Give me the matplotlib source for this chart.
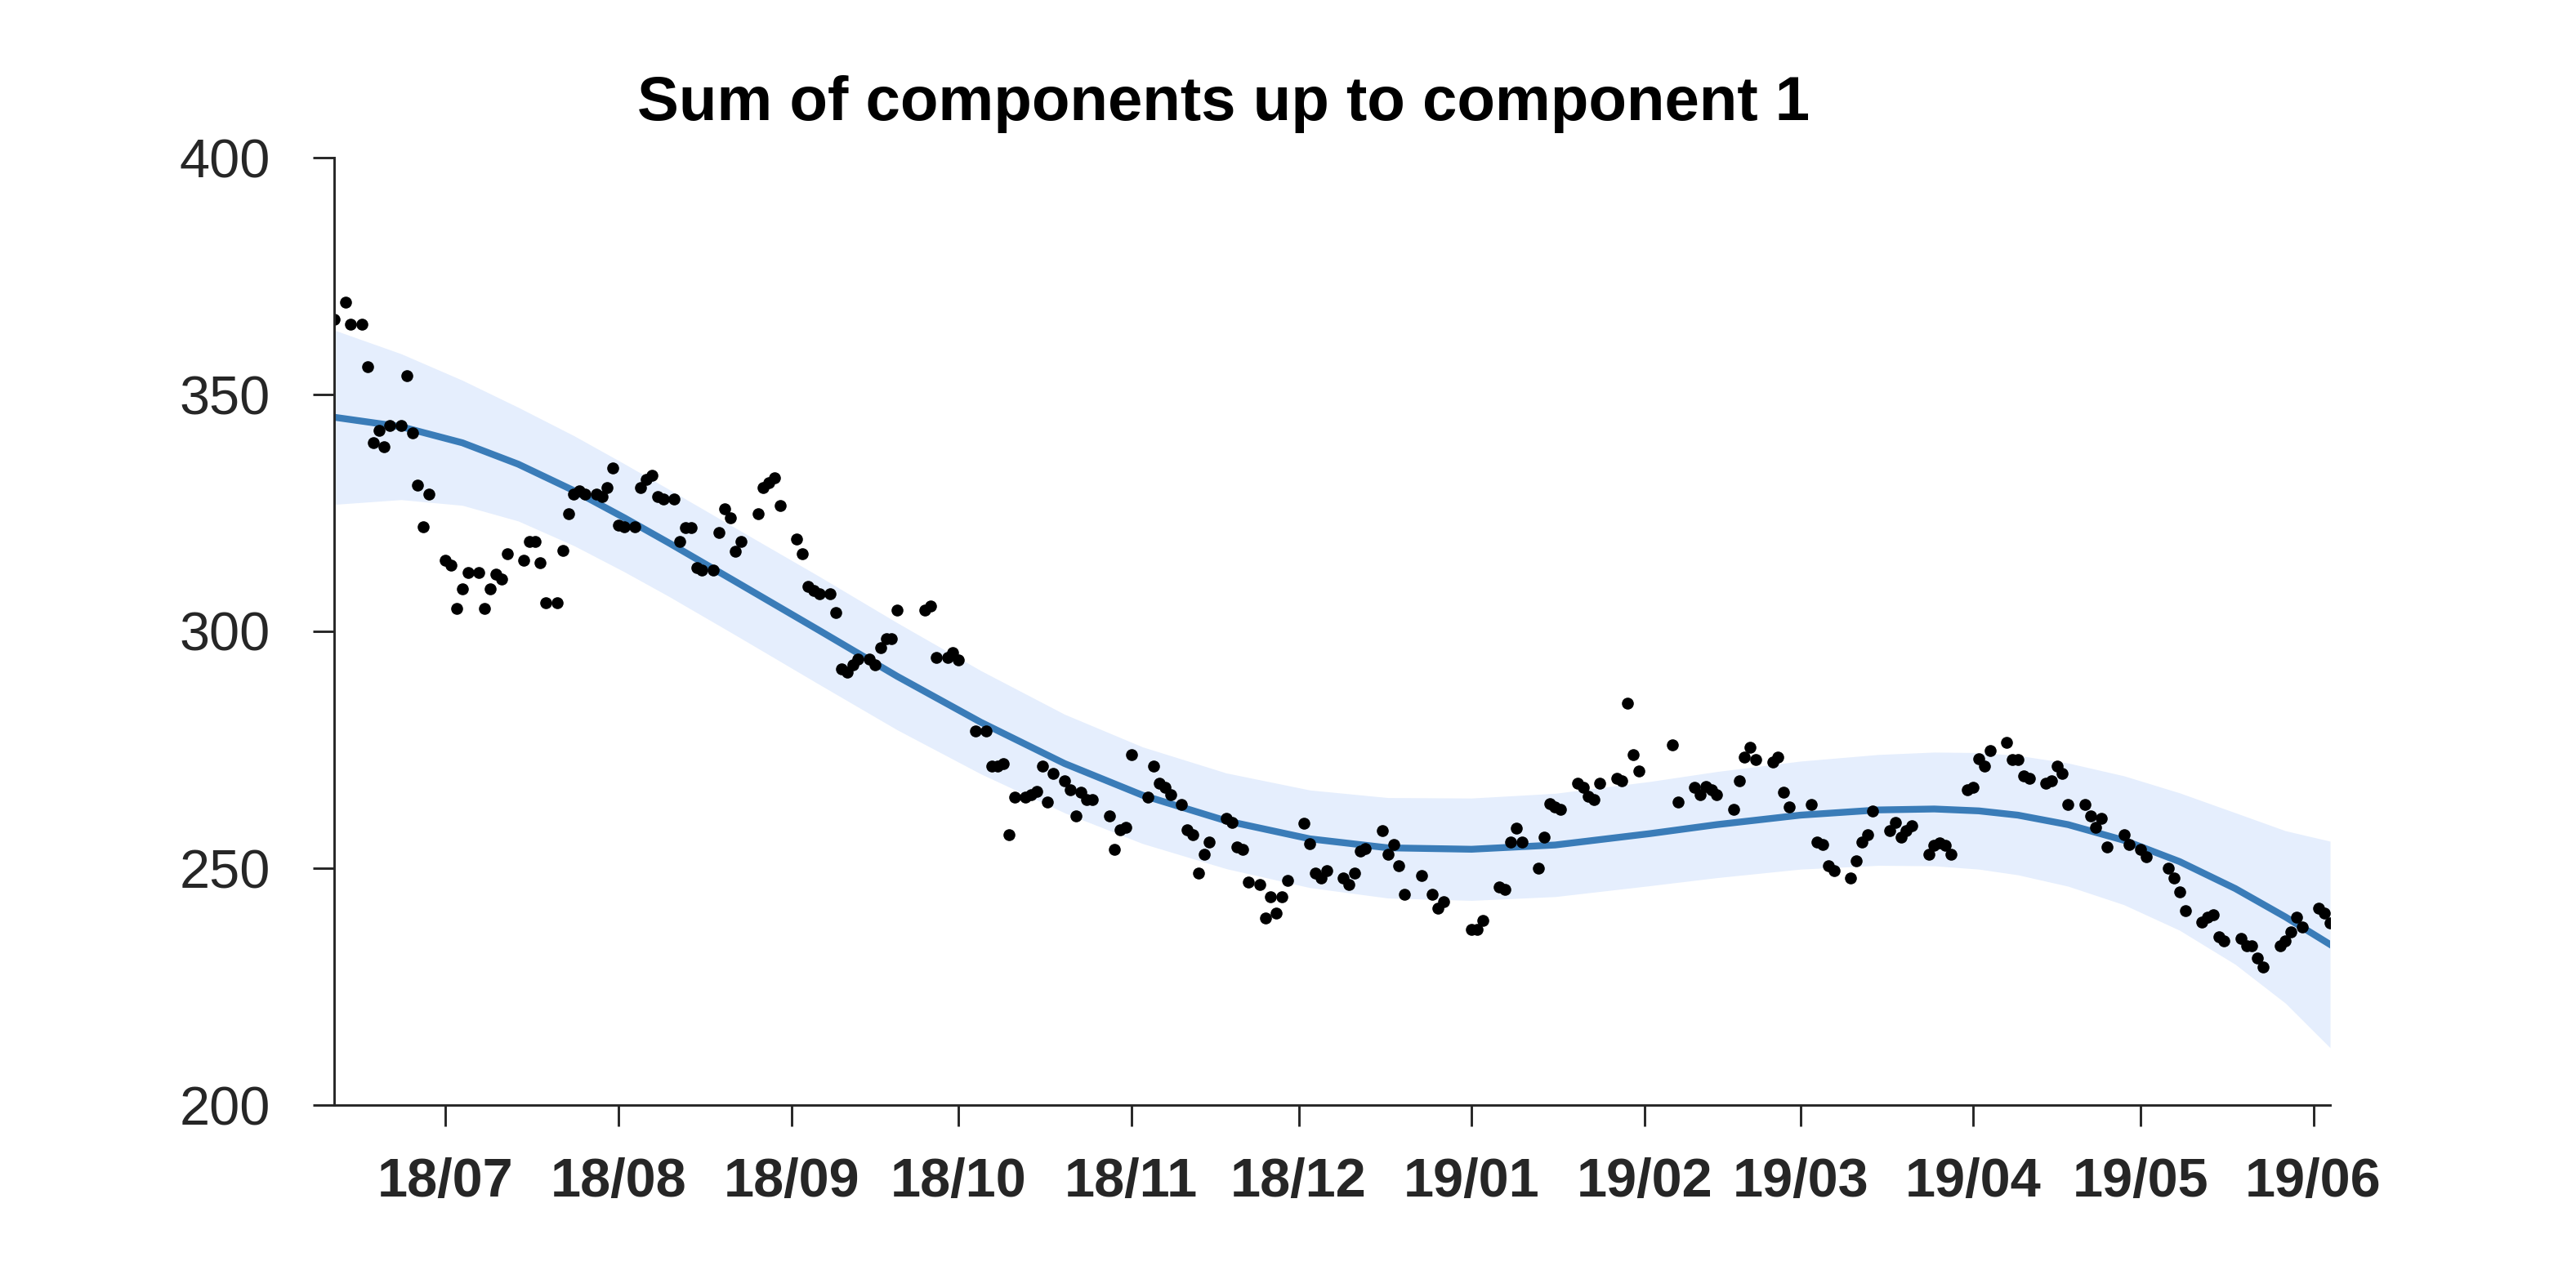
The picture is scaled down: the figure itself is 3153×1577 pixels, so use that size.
import numpy as np
import matplotlib
matplotlib.use("Agg")
import matplotlib.pyplot as plt
import matplotlib.dates as mdates

plt.rcParams['font.family'] = ['Liberation Sans', 'DejaVu Sans']

start = np.datetime64('2018-06-11')

# observations: day offset from start, value
obs_day = [0, 2, 3, 5, 6, 7, 8, 9, 10, 12, 13, 14, 15, 16, 17, 20, 21, 22, 23, 24,
           26, 27, 28, 29, 30, 31, 34, 35, 36, 37, 38, 40, 41, 42, 43, 44, 45, 47, 48, 49,
           50, 51, 52, 54, 55, 56, 57, 58, 59, 61, 62, 63, 64, 65, 66, 68, 69, 70, 71, 72,
           73, 76, 77, 78, 79, 80, 83, 84, 85, 86, 87, 89, 90, 91, 92, 93, 94, 96, 97, 98,
           99, 100, 101, 106, 107, 108, 110, 111, 112, 115, 117, 118, 119, 120, 121, 122, 124, 125, 126, 127,
           128, 129, 131, 132, 133, 134, 135, 136, 139, 140, 141, 142, 143, 146, 147, 148, 149, 150, 152, 153,
           154, 155, 156, 157, 160, 161, 162, 163, 164, 166, 167, 168, 169, 170, 171, 174, 175, 176, 177, 178,
           181, 182, 183, 184, 185, 188, 189, 190, 191, 192, 195, 197, 198, 199, 204, 205, 206, 209, 210, 211,
           212, 213, 216, 217, 218, 219, 220, 223, 224, 225, 226, 227, 230, 231, 232, 233, 234, 240, 241, 244,
           245, 246, 247, 248, 251, 252, 253, 254, 255, 258, 259, 260, 261, 265, 266, 267, 268, 269, 272, 273,
           274, 275, 276, 279, 280, 281, 282, 283, 286, 287, 288, 289, 290, 293, 294, 295, 296, 297, 300, 301,
           302, 303, 304, 307, 308, 309, 310, 311, 314, 315, 316, 317, 318, 321, 322, 324, 325, 329, 330, 331,
           332, 335, 336, 337, 338, 339, 342, 343, 344, 345, 346, 349, 350, 351, 352, 353, 356, 357, 358]
obs_value = [365.9, 369.4, 364.9, 364.9, 355.9, 339.9, 342.4, 338.9, 343.4, 343.4, 353.9, 341.9, 330.9, 322.0, 328.9, 315.0, 313.9, 304.9, 309.0, 312.5,
             312.5, 304.9, 309.0, 312.0, 311.0, 316.4, 315.0, 319.0, 319.0, 314.5, 306.0, 306.0, 317.0, 324.9, 328.9, 329.7, 328.9, 328.9, 328.4, 330.4,
             334.4, 322.5, 322.0, 322.0, 330.4, 332.1, 332.9, 328.4, 327.9, 327.9, 318.9, 321.9, 321.9, 313.5, 312.9, 312.9, 320.9, 325.9, 323.9, 316.9,
             318.9, 324.9, 330.4, 331.4, 332.4, 326.5, 319.4, 316.4, 309.4, 308.6, 307.9, 307.9, 304.0, 292.0, 291.4, 293.0, 294.1, 294.1, 293.0, 296.5,
             298.5, 298.5, 304.5, 304.5, 305.4, 294.5, 294.5, 295.6, 293.9, 279.0, 279.0, 271.5, 271.5, 272.0, 257.0, 265.0, 265.0, 265.6, 266.2, 271.5,
             264.0, 270.0, 268.5, 266.5, 261.0, 266.0, 264.5, 264.5, 261.0, 254.0, 258.1, 258.6, 274.0, 265.0, 271.5, 268.0, 267.0, 265.5, 263.5, 258.1,
             257.0, 249.0, 253.0, 255.5, 260.6, 259.6, 254.5, 254.0, 247.1, 246.5, 239.5, 244.0, 240.5, 244.0, 247.5, 259.5, 255.1, 249.0, 247.9, 249.5,
             248.0, 246.5, 249.0, 253.6, 254.1, 258.0, 253.0, 255.0, 250.5, 244.5, 248.5, 244.5, 241.5, 243.0, 237.0, 237.0, 239.0, 246.0, 245.5, 255.5,
             258.5, 255.5, 250.0, 256.5, 263.6, 262.9, 262.5, 268.0, 267.0, 265.1, 264.5, 268.0, 269.0, 268.5, 284.9, 274.0, 270.5, 276.0, 264.0, 267.0,
             265.5, 267.2, 266.6, 265.5, 262.5, 268.5, 273.5, 275.5, 273.0, 272.5, 273.5, 266.0, 263.0, 263.5, 255.6, 255.0, 250.6, 249.5, 248.0, 251.5,
             255.6, 257.0, 262.0, 258.0, 259.6, 256.5, 257.9, 259.0, 253.0, 254.8, 255.4, 254.8, 253.0, 266.6, 267.1, 273.1, 271.5, 274.9, 276.5, 273.0,
             273.0, 269.5, 268.9, 268.0, 268.5, 271.6, 270.0, 263.5, 263.5, 261.0, 258.6, 260.5, 254.5, 257.0, 255.0, 254.0, 252.5, 250.0, 248.0, 245.0,
             241.1, 238.6, 239.6, 240.2, 235.6, 234.6, 235.1, 233.6, 233.6, 231.1, 229.1, 233.6, 234.7, 236.6, 239.6, 237.6, 241.6, 240.6, 238.4]

# fitted component: mean and band
fit_day = [0, 12, 23, 33, 43, 52, 60, 72, 87, 101, 116, 131, 145, 160, 175, 189,
           204, 219, 236, 248, 263, 277, 287, 295, 302, 311, 321, 331, 341, 350, 358]
fit_mean = [345.2, 343.2, 339.8, 335.3, 329.7, 324.0, 318.7, 310.5, 300.2, 290.5, 280.8, 272.1, 265.4, 260.0, 256.2, 254.3,
            254.0, 254.9, 257.3, 259.2, 261.2, 262.3, 262.5, 262.1, 261.2, 259.2, 255.9, 251.4, 245.7, 239.7, 233.9]
fit_upper = [363.6, 358.6, 353.0, 347.3, 341.3, 335.4, 330.0, 321.8, 311.6, 301.8, 291.7, 282.5, 275.6, 270.1, 266.5, 264.9,
             264.8, 265.8, 268.3, 270.4, 272.6, 274.0, 274.5, 274.4, 273.8, 272.2, 269.5, 265.9, 261.7, 257.9, 255.7]
fit_lower = [326.8, 327.8, 326.6, 323.3, 318.1, 312.6, 307.4, 299.2, 288.8, 279.2, 269.9, 261.7, 255.2, 249.9, 245.9, 243.7,
             243.2, 244.0, 246.3, 248.0, 249.8, 250.6, 250.5, 249.8, 248.6, 246.2, 242.3, 236.9, 229.7, 221.5, 212.1]

yticks = [200, 250, 300, 350, 400]

obs_dates = start + np.array(obs_day).astype('timedelta64[D]')
fit_dates = start + np.array(fit_day).astype('timedelta64[D]')

fig = plt.figure(figsize=(3153 / 300, 1577 / 300), dpi=300)
ax = fig.add_axes([409 / 3153, 1 - 1353 / 1577, (2852 - 409) / 3153, (1353 - 193) / 1577])

ax.fill_between(fit_dates, fit_lower, fit_upper, color='#e5eefd', lw=0)
ax.plot(fit_dates, fit_mean, color='#3a7cb8', lw=2.0, solid_joinstyle='round')
ax.plot(obs_dates, obs_value, 'o', color='black', ms=3.5, mew=0)

ax.set_xlim(obs_dates[0], obs_dates[-1])
ax.set_ylim(200, 400)
ax.set_yticks(yticks)
ax.xaxis.set_major_locator(mdates.MonthLocator())
ax.xaxis.set_major_formatter(mdates.DateFormatter('%y/%m'))

for s in ['top', 'right']:
    ax.spines[s].set_visible(False)
for s in ['left', 'bottom']:
    ax.spines[s].set_color('#262626')
    ax.spines[s].set_linewidth(0.7)

ax.tick_params(axis='both', direction='out', length=6.3, width=0.7, color='#262626')
ax.tick_params(axis='y', labelsize=16, labelcolor='#262626', pad=12.5)
ax.tick_params(axis='x', labelsize=16, labelcolor='#262626', pad=9)
for lab in ax.get_xticklabels():
    lab.set_fontweight('bold')

fig.text(0.475, 0.919, 'Sum of components up to component 1', ha='center', va='center',
         fontsize=18.3, fontweight='bold', color='black')

fig.savefig('out.png', dpi=300, facecolor='white')
